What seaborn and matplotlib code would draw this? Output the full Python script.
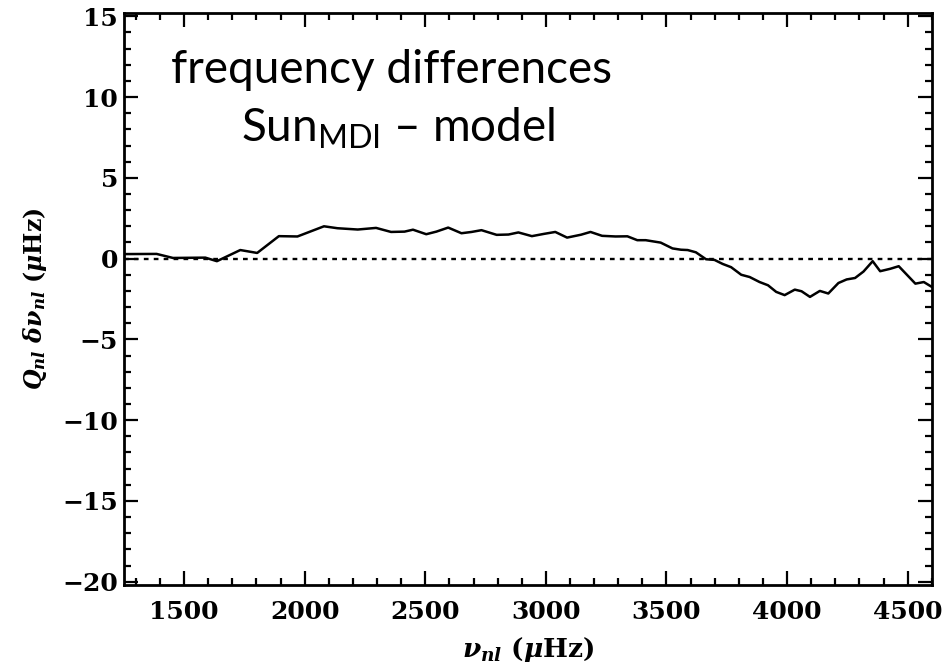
import numpy as np
import pandas as pd
import matplotlib
matplotlib.use("Agg")
import matplotlib.pyplot as plt
import seaborn as sns
from matplotlib.ticker import MultipleLocator

freq = [1250, 1386, 1454, 1588, 1636, 1733, 1803, 1893, 1970, 2080, 2136, 2220,
        2296, 2358, 2414, 2449, 2504, 2546, 2595, 2650, 2692, 2733, 2796, 2845,
        2886, 2942, 2992, 3039, 3088, 3146, 3185, 3233, 3289, 3338, 3379, 3414,
        3476, 3525, 3560, 3588, 3622, 3664, 3699, 3733, 3768, 3810, 3845, 3886,
        3921, 3955, 3990, 4032, 4060, 4095, 4136, 4171, 4213, 4247, 4282, 4317,
        4355, 4386, 4428, 4463, 4532, 4567, 4600]
diff = [0.28, 0.29, 0.04, 0.06, -0.16, 0.53, 0.35, 1.39, 1.37, 2.0, 1.88, 1.80,
        1.90, 1.65, 1.67, 1.79, 1.51, 1.67, 1.92, 1.57, 1.65, 1.76, 1.47, 1.49,
        1.62, 1.39, 1.53, 1.65, 1.30, 1.48, 1.65, 1.41, 1.37, 1.38, 1.14, 1.14,
        0.99, 0.63, 0.55, 0.53, 0.39, -0.04, -0.08, -0.33, -0.53, -1.0, -1.14, -1.45,
        -1.65, -2.06, -2.26, -1.92, -2.02, -2.37, -2.0, -2.16, -1.51, -1.29, -1.2, -0.8,
        -0.16, -0.78, -0.63, -0.47, -1.55, -1.45, -1.75]
xticks = [1500, 2000, 2500, 3000, 3500, 4000, 4500]
yticks = [15, 10, 5, 0, -5, -10, -15, -20]

sns.set_style("ticks")
plt.rcParams["font.family"] = ["DejaVu Sans"]
plt.rcParams["text.color"] = "black"
plt.rcParams["axes.labelcolor"] = "black"
plt.rcParams["xtick.color"] = "black"
plt.rcParams["ytick.color"] = "black"
plt.rcParams["mathtext.fontset"] = "custom"
plt.rcParams["mathtext.rm"] = "DejaVu Serif:bold"
plt.rcParams["mathtext.bf"] = "DejaVu Serif:bold"
plt.rcParams["mathtext.it"] = "DejaVu Serif:bold:italic"
plt.rcParams["mathtext.sf"] = "Lato"

df = pd.DataFrame({"freq": freq, "diff": diff})

fig = plt.figure(figsize=(9.45, 6.68), dpi=100)
ax = fig.add_axes([0.131, 0.1243, 0.855, 0.8562])

ax.axhline(0, color="black", lw=1.7, ls=(0, (2, 2.2)), zorder=1)
sns.lineplot(data=df, x="freq", y="diff", ax=ax, color="black", lw=1.8, zorder=2)

ax.set_xlim(1250, 4600)
ax.set_ylim(-20.2, 15.2)
ax.set_xticks(xticks)
ax.set_yticks(yticks)
ax.xaxis.set_minor_locator(MultipleLocator(100))
ax.yaxis.set_minor_locator(MultipleLocator(1))
tick_font = dict(family="DejaVu Serif", weight="bold", size=18, color="black")
ax.set_xticklabels([str(t) for t in xticks], fontdict=tick_font)
ax.set_yticklabels([str(t).replace("-", "\u2212") for t in yticks], fontdict=tick_font)
ax.tick_params(which="both", direction="in", top=True, right=True, width=1.6,
               color="black")
ax.tick_params(axis="x", pad=11)
ax.tick_params(axis="y", pad=4)
ax.tick_params(which="major", length=10)
ax.tick_params(which="minor", length=5)
for s in ax.spines.values():
    s.set_linewidth(2)
    s.set_color("black")

ax.set_xlabel(r"$\nu_{nl}\ \mathrm{(}\mu\mathrm{Hz)}$", fontsize=19, labelpad=8, color="black")
ax.set_ylabel(r"$Q_{nl}\ \delta\nu_{nl}\ \mathrm{(}\mu\mathrm{Hz)}$", fontsize=17, labelpad=10, color="black")

ax.text(0.059, 0.8776, "frequency differences", transform=ax.transAxes, color="black",
        fontsize=33, family=["Lato", "DejaVu Sans"], va="baseline", ha="left")
ax.text(0.145, 0.7745, r"Sun$_{\mathsf{MDI}}$ – model", transform=ax.transAxes, color="black",
        fontsize=33, family=["Lato", "DejaVu Sans"], va="baseline", ha="left")

fig.savefig("out.png", dpi=100)
